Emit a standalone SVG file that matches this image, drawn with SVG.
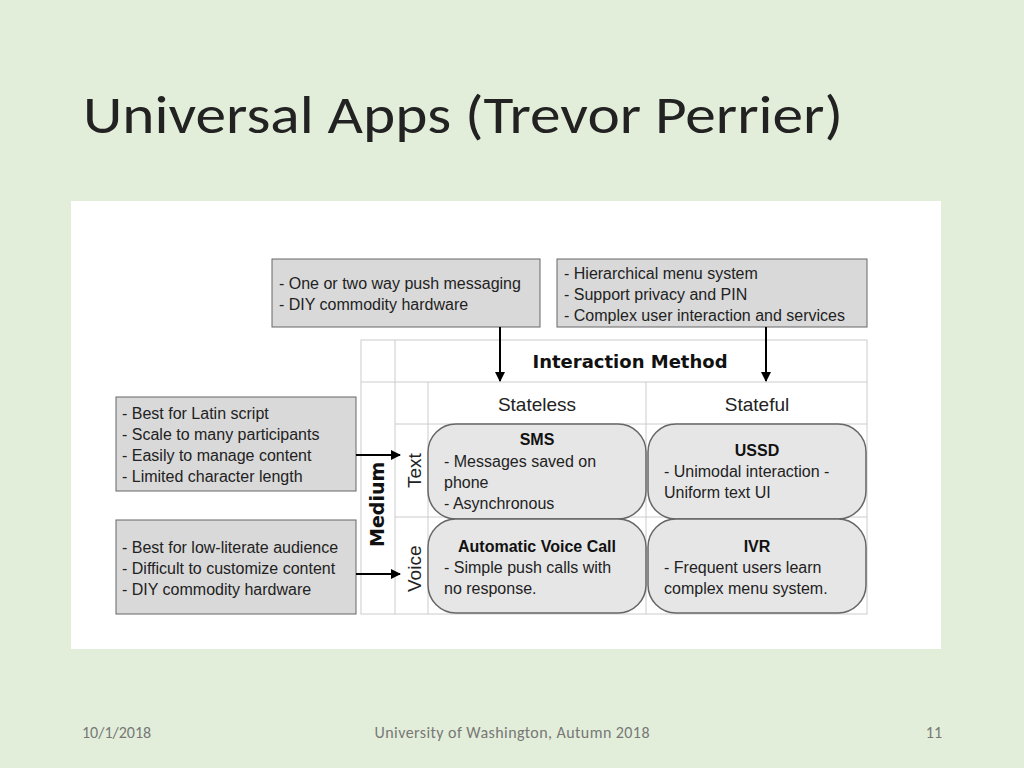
<svg xmlns="http://www.w3.org/2000/svg" width="1024" height="768" viewBox="0 0 1024 768">
<defs>
<marker id="ah" markerWidth="10" markerHeight="10" refX="9" refY="5" orient="auto" markerUnits="userSpaceOnUse"><path d="M0,0 L10,5 L0,10 z" fill="#000"/></marker>
<style>
.t{font-family:"Liberation Sans",Arial,sans-serif;font-size:16px;fill:#222}
.b{font-weight:bold;fill:#111}
.L{font-size:19px}
.note{fill:#d9d9d9;stroke:#666;stroke-width:1}
.cell{fill:#e6e6e6;stroke:#666;stroke-width:1.5}
.g{stroke:#ccc;stroke-width:1;fill:none}
.c{stroke:#000;stroke-width:2;fill:none;marker-end:url(#ah)}
.f{font-family:Calibri,"Open Sans",sans-serif;font-size:14px;fill:#777}
</style>
</defs>
<rect width="1024" height="768" fill="#e2eed9"/>
<text x="83" y="133" font-family="Calibri,'Open Sans',sans-serif" font-size="54" fill="#222" textLength="760" lengthAdjust="spacingAndGlyphs">Universal Apps (Trevor Perrier)</text>
<rect x="71" y="201" width="870" height="448" fill="#fff"/>
<g id="grid">
<rect x="361" y="340" width="506" height="274" class="g"/>
<path class="g" d="M395 340V614M428 382V614M646 382V614M361 382H867M395 424H867M395 517H867"/>
<text x="630" y="368" class="t b L" text-anchor="middle" style="font-family:'DejaVu Sans',sans-serif;font-size:18px">Interaction Method</text>
<text x="537" y="411" class="t L" text-anchor="middle">Stateless</text>
<text x="757" y="411" class="t L" text-anchor="middle">Stateful</text>
<text transform="translate(384 547) rotate(-90)" class="t b L" style="font-family:'DejaVu Sans',sans-serif">Medium</text>
<text transform="translate(421 488) rotate(-90)" class="t L">Text</text>
<text transform="translate(421 592) rotate(-90)" class="t L">Voice</text>
</g>
<g id="sms"><rect x="428" y="424" width="218" height="95" rx="28" class="cell"/>
<text x="537" y="445" class="t b" text-anchor="middle">SMS</text>
<text class="t"><tspan x="444" y="467">- Messages saved on</tspan><tspan x="444" y="488">phone</tspan><tspan x="444" y="509">- Asynchronous</tspan></text></g>
<g id="ussd"><rect x="648" y="424" width="218" height="95" rx="28" class="cell"/>
<text x="757" y="456" class="t b" text-anchor="middle">USSD</text>
<text class="t"><tspan x="664" y="477">- Unimodal interaction -</tspan><tspan x="664" y="498">Uniform text UI</tspan></text></g>
<g id="avc"><rect x="428" y="519" width="218" height="94" rx="28" class="cell"/>
<text x="537" y="552" class="t b" text-anchor="middle">Automatic Voice Call</text>
<text class="t"><tspan x="444" y="573">- Simple push calls with</tspan><tspan x="444" y="594">no response.</tspan></text></g>
<g id="ivr"><rect x="648" y="519" width="218" height="94" rx="28" class="cell"/>
<text x="757" y="552" class="t b" text-anchor="middle">IVR</text>
<text class="t"><tspan x="664" y="573">- Frequent users learn</tspan><tspan x="664" y="594">complex menu system.</tspan></text></g>
<g id="n1"><rect x="272" y="259" width="268" height="68" class="note"/>
<text class="t"><tspan x="279" y="289">- One or two way push messaging</tspan><tspan x="279" y="310">- DIY commodity hardware</tspan></text></g>
<g id="n2"><rect x="557" y="259" width="310" height="68" class="note"/>
<text class="t"><tspan x="564" y="279">- Hierarchical menu system</tspan><tspan x="564" y="300">- Support privacy and PIN</tspan><tspan x="564" y="321">- Complex user interaction and services</tspan></text></g>
<g id="n3"><rect x="116" y="397" width="240" height="94" class="note"/>
<text class="t"><tspan x="122" y="419">- Best for Latin script</tspan><tspan x="122" y="440">- Scale to many participants</tspan><tspan x="122" y="461">- Easily to manage content</tspan><tspan x="122" y="482">- Limited character length</tspan></text></g>
<g id="n4"><rect x="116" y="520" width="240" height="94" class="note"/>
<text class="t"><tspan x="122" y="553">- Best for low-literate audience</tspan><tspan x="122" y="574">- Difficult to customize content</tspan><tspan x="122" y="595">- DIY commodity hardware</tspan></text></g>
<g id="connectors">
<path class="c" d="M500 327V381"/>
<path class="c" d="M766 327V381"/>
<path class="c" d="M356 455H400"/>
<path class="c" d="M356 574H400"/>
</g>
<text x="82" y="738" class="f" style="font-size:16px">10/1/2018</text>
<text x="512" y="738" class="f" text-anchor="middle" style="font-size:16px" textLength="275">University of Washington, Autumn 2018</text>
<text x="942" y="738" class="f" text-anchor="end" style="font-size:16px">11</text>
</svg>
